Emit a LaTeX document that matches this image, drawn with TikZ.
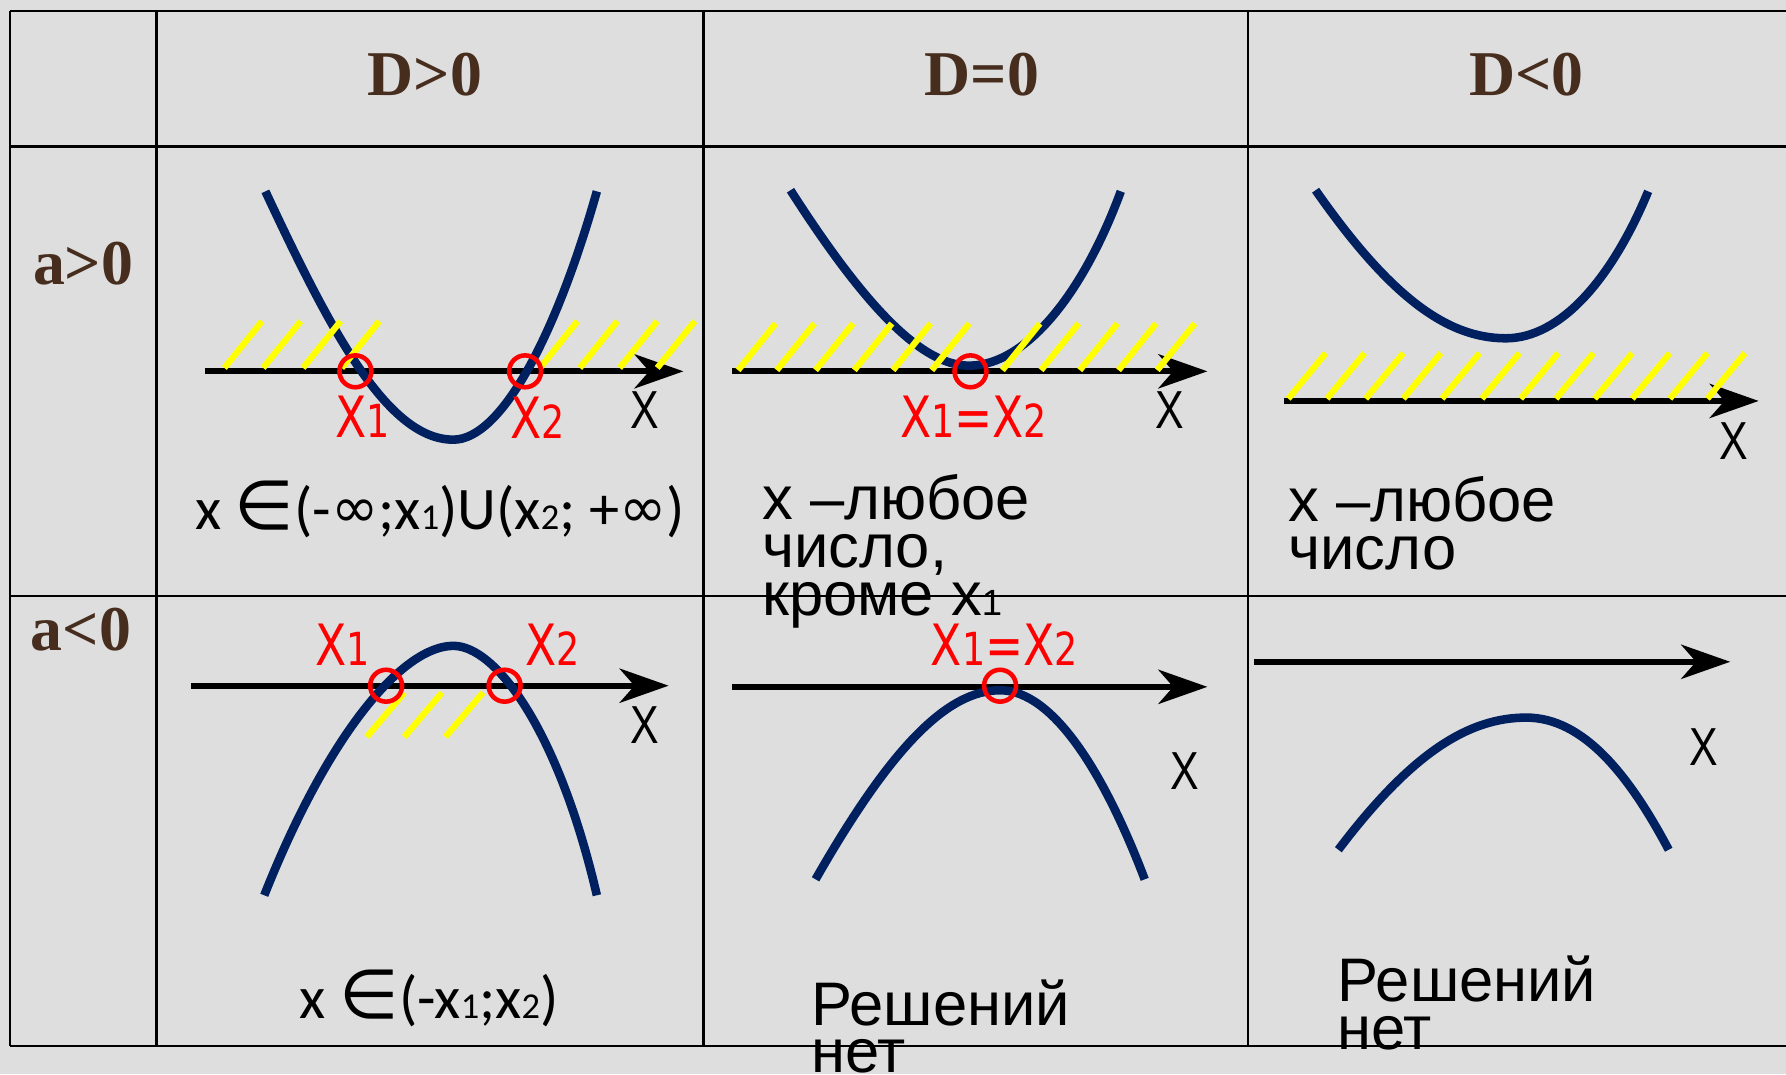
\documentclass[tikz,border=0pt]{standalone}
\usepackage{fontspec}
\setmainfont{Liberation Sans}
\newfontfamily\headfont{Liberation Serif}
\newfontfamily\redfont[FakeStretch=0.8]{DejaVu Sans}
\newfontfamily\axisfont[FakeStretch=0.8]{Liberation Sans}
\newfontfamily\calfont{Carlito}
\newfontfamily\symfont{DejaVu Sans}
\usetikzlibrary{arrows.meta}

\definecolor{bggray}{RGB}{222,222,222}
\definecolor{navy}{RGB}{0,32,96}
\definecolor{headbrown}{RGB}{70,45,30}
\definecolor{hatch}{RGB}{255,255,0}

% small index digit on the baseline
\newcommand{\idx}[2]{{\fontsize{#1}{#1}\selectfont #2}}
\newcommand{\xr}[1]{X\idx{40}{#1}}
\newcommand{\infsym}{\raisebox{2pt}{\symfont\fontsize{50}{50}\selectfont ∞}}
\newcommand{\insym}{{\symfont\fontsize{60}{60}\selectfont ∈}}

\begin{document}
\begin{tikzpicture}[x=1pt, y=-1pt,
    grid/.style={draw=black, line width=2pt},
    head/.style={font=\headfont\bfseries\fontsize{56}{56}\selectfont, text=headbrown, inner sep=0pt},
    axis/.style={line width=5.5pt, -{Stealth[length=43pt, width=30pt, inset=13pt]}},
    curve/.style={draw=navy, line width=7.5pt},
    hatchline/.style={draw=hatch, line width=5.5pt},
    root/.style={circle, draw=red, line width=4pt, minimum size=28pt, inner sep=0pt},
    rootlabel/.style={font=\redfont\fontsize{50}{50}\selectfont, text=red, inner sep=0pt},
    xlabel/.style={font=\axisfont\fontsize{47}{47}\selectfont, inner sep=0pt},
    answer/.style={font=\fontsize{54}{42}\selectfont, align=left, inner sep=0pt},
    interval/.style={font=\calfont\fontsize{53}{53}\selectfont, inner sep=0pt}
]

\useasboundingbox[fill=bggray] (0,0) rectangle (1568,943);

% Table
\foreach \gy in {9.5,128.5,523,918}
    \draw[grid] (9,\gy) -- (1568,\gy);
\foreach \gx in {9,137.5,617.5,1095.5}
    \draw[grid] (\gx,9.5) -- (\gx,918);

% Headers
\node[head, anchor=base] (dpos) at (373,84) {D>0};
\node[head, anchor=base] (dzero) at (862,84) {D=0};
\node[head, anchor=base] (dneg) at (1340,84) {D<0};
\node[head, anchor=base] (apos) at (73,250) {a>0};
\node[head, anchor=base] (aneg) at (71,571) {a<0};

% a>0, D>0
\draw[axis] (180,326) -- (600,326);
\draw[curve] (233,168) .. controls (290,290) and (340,386) .. (398,386)
    .. controls (440,386) and (488,295) .. (524,168);
\foreach \hx in {197,231,266,300,474,509,544,577}
    \draw[hatchline] (\hx,323) -- ++(33,-41);
\node[root] (r1) at (312,326) {};
\node[root] (r2) at (461,326) {};
\node[rootlabel, anchor=base west] (lr1) at (294,384) {\xr{1}};
\node[rootlabel, anchor=base west] (lr2) at (448,385) {\xr{2}};
\node[xlabel] (xa) at (566,360) {X};
\node[interval, anchor=base west] (int1) at (171,465)
    {x \insym(-\infsym;x\idx{32}{1})U(x\idx{32}{2}; +\infsym)};

% a>0, D=0
\draw[axis] (643,326) -- (1060,326);
\draw[curve] (694,167) .. controls (760,270) and (810,322) .. (852,321)
    .. controls (900,320) and (950,260) .. (984,168);
\foreach \hx in {648,682,716,750,784,818,880,914,948,982,1016}
    \draw[hatchline] (\hx,325) -- ++(33,-41);
\node[root] (r3) at (852,326) {};
\node[rootlabel, anchor=base west] (lr3) at (790,384) {\xr{1}=\xr{2}};
\node[xlabel] (xb) at (1027,360) {X};
\node[answer, anchor=base west] (any1) at (669,540) {x –любое\\число,\\кроме x\idx{32}{1}};

% a>0, D<0
\draw[axis] (1127,352) -- (1544,352);
\draw[curve] (1155,167) .. controls (1220,260) and (1270,297) .. (1322,297)
    .. controls (1370,297) and (1415,245) .. (1447,168);
\foreach \hx in {1131,1165,1199,1232,1266,1301,1335,1366,1400,1433,1466,1499}
    \draw[hatchline] (\hx,350) -- ++(33,-40);
\node[xlabel] (xc) at (1522,387) {X};
\node[answer, anchor=base west] (any2) at (1131,500) {x –любое\\число};

% a<0, D>0
\draw[axis] (168,602) -- (587,602);
\draw[curve] (232,786) .. controls (290,640) and (355,567) .. (398,567)
    .. controls (435,567) and (490,640) .. (524,786);
\foreach \hx in {322,355,391}
    \draw[hatchline] (\hx,647) -- ++(33,-39);
\node[root] (r4) at (339,602) {};
\node[root] (r5) at (443,602) {};
\node[rootlabel, anchor=base west] (lr4) at (277,584) {\xr{1}};
\node[rootlabel, anchor=base west] (lr5) at (461,584) {\xr{2}};
\node[xlabel] (xd) at (566,637) {X};
\node[interval, anchor=base west] (int2) at (263,894) {x \insym(-x\idx{32}{1};x\idx{32}{2})};

% a<0, D=0
\draw[axis] (643,603) -- (1060,603);
\draw[curve] (716,772) .. controls (780,660) and (830,606) .. (878,606)
    .. controls (925,606) and (970,680) .. (1005,772);
\node[root] (r6) at (878,602) {};
\node[rootlabel, anchor=base west] (lr6) at (817,584) {\xr{1}=\xr{2}};
\node[xlabel] (xe) at (1040,677) {X};
\node[answer, anchor=base west] (none1) at (712,942) {Решений\\нет};

% a<0, D<0
\draw[axis] (1101,581) -- (1519,581);
\draw[curve] (1175,746) .. controls (1240,660) and (1290,630) .. (1340,630)
    .. controls (1390,630) and (1430,680) .. (1465,746);
\node[xlabel] (xf) at (1496,656) {X};
\node[answer, anchor=base west] (none2) at (1174,921) {Решений\\нет};

\end{tikzpicture}
\end{document}
